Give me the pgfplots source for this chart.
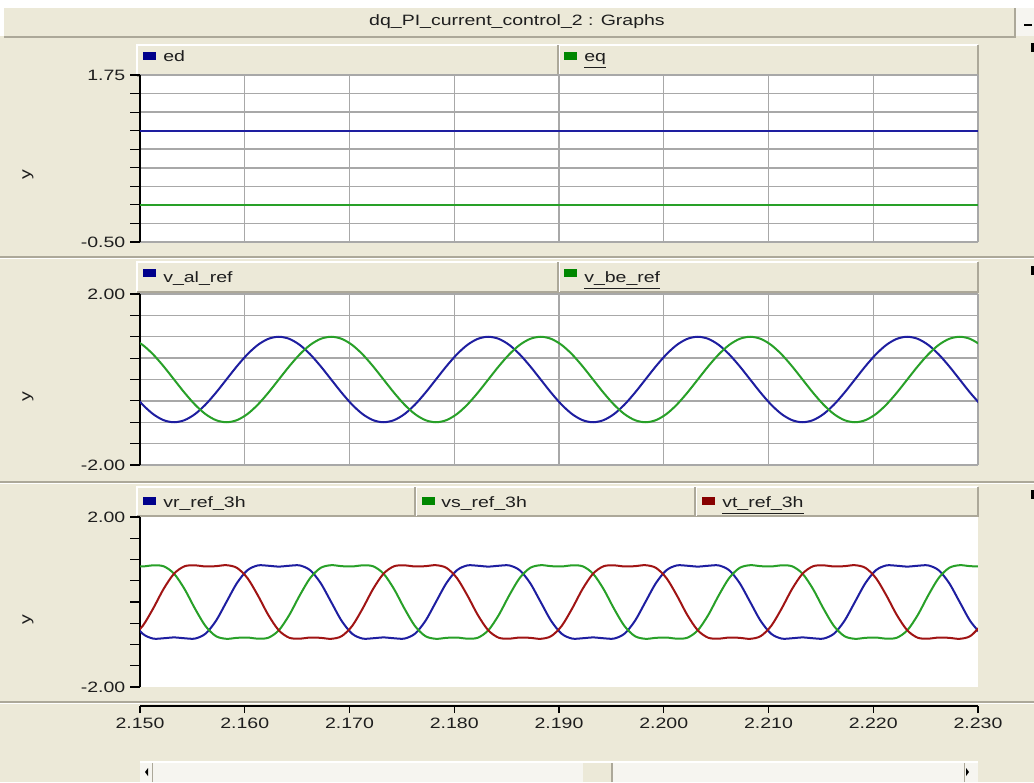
\documentclass[border=0pt]{standalone}
\usepackage{pgfplots}
\pgfplotsset{compat=1.18}
\usepackage{pgfplotstable}
\usepackage{fontspec}
\setmainfont{Liberation Sans}
\newfontfamily\uifont[FakeStretch=1.3]{Liberation Sans}
\newcommand\ui{\uifont\fontsize{11.25}{13}\selectfont}
\definecolor{bg}{RGB}{236,233,216}
\definecolor{edge}{RGB}{172,168,153}
\definecolor{gridc}{RGB}{168,168,168}
\definecolor{lblue}{RGB}{30,30,160}
\definecolor{lgreen}{RGB}{40,160,40}
\definecolor{lred}{RGB}{160,20,20}
\definecolor{sblue}{RGB}{0,0,140}
\definecolor{sgreen}{RGB}{0,135,0}
\definecolor{sred}{RGB}{135,0,0}
\definecolor{track}{RGB}{246,245,240}
\definecolor{txt}{RGB}{30,30,30}

% t, v_al_ref, v_be_ref, vr_ref_3h, vs_ref_3h, vt_ref_3h
\pgfplotstableread{
t al be r s v
2.14925 -0.3090 0.9511 -0.4438 0.8433 -0.8039
2.15025 -0.5878 0.8090 -0.7463 0.8360 -0.5652
2.15125 -0.8090 0.5878 -0.8605 0.8620 -0.1560
2.15225 -0.9511 0.3090 -0.8531 0.8411 0.3059
2.15325 -1 0 -0.8333 0.6667 0.6667
2.15425 -0.9511 -0.3090 -0.8531 0.3059 0.8411
2.15525 -0.8090 -0.5878 -0.8605 -0.1560 0.8620
2.15625 -0.5878 -0.8090 -0.7463 -0.5652 0.8360
2.15725 -0.3090 -0.9511 -0.4438 -0.8039 0.8433
2.15825 0 -1 0 -0.8660 0.8660
2.15925 0.3090 -0.9511 0.4438 -0.8433 0.8039
2.16025 0.5878 -0.8090 0.7463 -0.8360 0.5652
2.16125 0.8090 -0.5878 0.8605 -0.8620 0.1560
2.16225 0.9511 -0.3090 0.8531 -0.8411 -0.3059
2.16325 1 0 0.8333 -0.6667 -0.6667
2.16425 0.9511 0.3090 0.8531 -0.3059 -0.8411
2.16525 0.8090 0.5878 0.8605 0.1560 -0.8620
2.16625 0.5878 0.8090 0.7463 0.5652 -0.8360
2.16725 0.3090 0.9511 0.4438 0.8039 -0.8433
2.16825 0 1 0 0.8660 -0.8660
2.16925 -0.3090 0.9511 -0.4438 0.8433 -0.8039
2.17025 -0.5878 0.8090 -0.7463 0.8360 -0.5652
2.17125 -0.8090 0.5878 -0.8605 0.8620 -0.1560
2.17225 -0.9511 0.3090 -0.8531 0.8411 0.3059
2.17325 -1 0 -0.8333 0.6667 0.6667
2.17425 -0.9511 -0.3090 -0.8531 0.3059 0.8411
2.17525 -0.8090 -0.5878 -0.8605 -0.1560 0.8620
2.17625 -0.5878 -0.8090 -0.7463 -0.5652 0.8360
2.17725 -0.3090 -0.9511 -0.4438 -0.8039 0.8433
2.17825 0 -1 0 -0.8660 0.8660
2.17925 0.3090 -0.9511 0.4438 -0.8433 0.8039
2.18025 0.5878 -0.8090 0.7463 -0.8360 0.5652
2.18125 0.8090 -0.5878 0.8605 -0.8620 0.1560
2.18225 0.9511 -0.3090 0.8531 -0.8411 -0.3059
2.18325 1 0 0.8333 -0.6667 -0.6667
2.18425 0.9511 0.3090 0.8531 -0.3059 -0.8411
2.18525 0.8090 0.5878 0.8605 0.1560 -0.8620
2.18625 0.5878 0.8090 0.7463 0.5652 -0.8360
2.18725 0.3090 0.9511 0.4438 0.8039 -0.8433
2.18825 0 1 0 0.8660 -0.8660
2.18925 -0.3090 0.9511 -0.4438 0.8433 -0.8039
2.19025 -0.5878 0.8090 -0.7463 0.8360 -0.5652
2.19125 -0.8090 0.5878 -0.8605 0.8620 -0.1560
2.19225 -0.9511 0.3090 -0.8531 0.8411 0.3059
2.19325 -1 0 -0.8333 0.6667 0.6667
2.19425 -0.9511 -0.3090 -0.8531 0.3059 0.8411
2.19525 -0.8090 -0.5878 -0.8605 -0.1560 0.8620
2.19625 -0.5878 -0.8090 -0.7463 -0.5652 0.8360
2.19725 -0.3090 -0.9511 -0.4438 -0.8039 0.8433
2.19825 0 -1 0 -0.8660 0.8660
2.19925 0.3090 -0.9511 0.4438 -0.8433 0.8039
2.20025 0.5878 -0.8090 0.7463 -0.8360 0.5652
2.20125 0.8090 -0.5878 0.8605 -0.8620 0.1560
2.20225 0.9511 -0.3090 0.8531 -0.8411 -0.3059
2.20325 1 0 0.8333 -0.6667 -0.6667
2.20425 0.9511 0.3090 0.8531 -0.3059 -0.8411
2.20525 0.8090 0.5878 0.8605 0.1560 -0.8620
2.20625 0.5878 0.8090 0.7463 0.5652 -0.8360
2.20725 0.3090 0.9511 0.4438 0.8039 -0.8433
2.20825 0 1 0 0.8660 -0.8660
2.20925 -0.3090 0.9511 -0.4438 0.8433 -0.8039
2.21025 -0.5878 0.8090 -0.7463 0.8360 -0.5652
2.21125 -0.8090 0.5878 -0.8605 0.8620 -0.1560
2.21225 -0.9511 0.3090 -0.8531 0.8411 0.3059
2.21325 -1 0 -0.8333 0.6667 0.6667
2.21425 -0.9511 -0.3090 -0.8531 0.3059 0.8411
2.21525 -0.8090 -0.5878 -0.8605 -0.1560 0.8620
2.21625 -0.5878 -0.8090 -0.7463 -0.5652 0.8360
2.21725 -0.3090 -0.9511 -0.4438 -0.8039 0.8433
2.21825 0 -1 0 -0.8660 0.8660
2.21925 0.3090 -0.9511 0.4438 -0.8433 0.8039
2.22025 0.5878 -0.8090 0.7463 -0.8360 0.5652
2.22125 0.8090 -0.5878 0.8605 -0.8620 0.1560
2.22225 0.9511 -0.3090 0.8531 -0.8411 -0.3059
2.22325 1 0 0.8333 -0.6667 -0.6667
2.22425 0.9511 0.3090 0.8531 -0.3059 -0.8411
2.22525 0.8090 0.5878 0.8605 0.1560 -0.8620
2.22625 0.5878 0.8090 0.7463 0.5652 -0.8360
2.22725 0.3090 0.9511 0.4438 0.8039 -0.8433
2.22825 0 1 0 0.8660 -0.8660
2.22925 -0.3090 0.9511 -0.4438 0.8433 -0.8039
2.23025 -0.5878 0.8090 -0.7463 0.8360 -0.5652
}\wave

\pgfplotsset{
  panel/.style={
    scale only axis, width=628.5pt,
    xmin=2.15, xmax=2.23,
    xtick={2.15,2.16,2.17,2.18,2.19,2.20,2.21,2.22,2.23},
    xticklabels={},
    axis lines*=left,
    x axis line style={draw=none},
    y axis line style={black, line width=1.1pt},
    xtick style={draw=none},
    ytick style={black, line width=0.9pt},
    tick align=outside,
    major tick length=7.5pt,
    yticklabel style={font=\ui, text=txt},
    axis background/.style={fill=white},
  },
  gridded/.style={grid=major, major grid style={gridc, line width=1.1pt}},
  wave/.style={line width=1.5pt, smooth},
}

\newcommand\legsq[3]{\fill[#3] (#1,#2-3) rectangle (#1+9.75,#2+3);}

\begin{document}
\begin{tikzpicture}[x=1pt,y=1pt]
% window background
\path[use as bounding box, fill=bg] (0,0) rectangle (775.5,586.5);
\fill[white] (0,580.5) rectangle (775.5,586.5);
\fill[white] (0,559.5) rectangle (3,586.5);
\fill[track] (762,559.5) rectangle (775.5,580.5);
\draw[black, line width=1.5pt] (768,567.75) -- (774,567.75);
\draw[edge, line width=1.2pt] (3,558.8) -- (761.25,558.8) -- (761.25,580.5);
\node[font=\ui, text=txt] at (387.75,570) {dq\_PI\_current\_control\_2 : Graphs};

% separators
\foreach \yy in {393.75,225,60} {
  \draw[edge, line width=1.2pt] (0,\yy) -- (775.5,\yy);
  \draw[white, line width=0.8pt] (0,\yy-1.2) -- (775.5,\yy-1.2);
}
% right marks
\fill[black] (773.25,547.5) rectangle (775.5,554.25);
\fill[black] (773.25,380.25) rectangle (775.5,387);
\fill[black] (773.25,212.25) rectangle (775.5,219);

% legend bars
\foreach \top/\bot in {552.75/529.5, 390/367.5, 221.25/199.5} {
  \fill[bg] (102.75,\bot) rectangle (733.5,\top);
  \draw[white, line width=0.8pt] (102.75,\bot) -- (102.75,\top) -- (733.5,\top);
  \draw[edge, line width=1.1pt] (102.75,\bot) -- (733.5,\bot) -- (733.5,\top);
}
\foreach \xx/\top/\bot in {418.5/552.75/529.5, 418.5/390/367.5, 311.25/221.25/199.5, 521.25/221.25/199.5} {
  \draw[edge, line width=1.1pt] (\xx,\bot) -- (\xx,\top);
  \draw[white, line width=0.7pt] (\xx+1,\bot) -- (\xx+1,\top);
}
% legend entries
\legsq{107.25}{544.5}{sblue}
\node[font=\ui, text=txt, anchor=base west, inner sep=0pt] at (122.25,540) {ed};
\legsq{423}{544.5}{sgreen}
\node[font=\ui, text=txt, anchor=base west, inner sep=0pt] at (438,540) {\underline{eq}};
\legsq{107.25}{381.75}{sblue}
\node[font=\ui, text=txt, anchor=base west, inner sep=0pt] at (122.25,374.25) {v\_al\_ref};
\legsq{423}{381.75}{sgreen}
\node[font=\ui, text=txt, anchor=base west, inner sep=0pt] at (438,374.25) {\underline{v\_be\_ref}};
\legsq{107.25}{210.75}{sblue}
\node[font=\ui, text=txt, anchor=base west, inner sep=0pt] at (122.25,205.5) {vr\_ref\_3h};
\legsq{316.5}{210.75}{sgreen}
\node[font=\ui, text=txt, anchor=base west, inner sep=0pt] at (330.75,205.5) {vs\_ref\_3h};
\legsq{526.5}{210.75}{sred}
\node[font=\ui, text=txt, anchor=base west, inner sep=0pt] at (541.5,205.5) {\underline{vt\_ref\_3h}};

% y labels
\node[font=\ui, text=txt, rotate=90] at (21,455.25) {y};
\node[font=\ui, text=txt, rotate=90] at (21,288.75) {y};
\node[font=\ui, text=txt, rotate=90] at (21,121.5) {y};

% panel 1
\begin{axis}[panel, gridded, at={(105pt,405pt)}, anchor=south west, height=125.25pt,
  ymin=-0.5, ymax=1.75,
  ytick={-0.5,-0.25,0,0.25,0.5,0.75,1,1.25,1.5,1.75},
  yticklabels={-0.50,,,,,,,,,1.75}]
\addplot[lblue, line width=1.5pt] coordinates {(2.15,1) (2.23,1)};
\addplot[lgreen, line width=1.5pt] coordinates {(2.15,0) (2.23,0)};
\end{axis}

% panel 2
\begin{axis}[panel, gridded, at={(105pt,237.75pt)}, anchor=south west, height=128.25pt,
  ymin=-2, ymax=2,
  ytick={-2,-1.5,-1,-0.5,0,0.5,1,1.5,2},
  yticklabels={-2.00,,,,,,,,2.00}]
\addplot[lblue, wave] table[x=t, y=al] {\wave};
\addplot[lgreen, wave] table[x=t, y=be] {\wave};
\end{axis}

% panel 3
\begin{axis}[panel, at={(105pt,71.25pt)}, anchor=south west, height=127.5pt,
  ymin=-2, ymax=2,
  ytick={-2,-1.5,-1,-0.5,0,0.5,1,1.5,2},
  yticklabels={-2.00,,,,,,,,2.00}]
\addplot[lblue, wave] table[x=t, y=r] {\wave};
\addplot[lgreen, wave] table[x=t, y=s] {\wave};
\addplot[lred, wave] table[x=t, y=v] {\wave};
\end{axis}

% shared time axis
\begin{axis}[scale only axis, width=628.5pt, height=10pt, at={(105pt,57pt)}, anchor=south west,
  xmin=2.15, xmax=2.23, ymin=0, ymax=1,
  axis x line*=bottom, hide y axis,
  xtick={2.15,2.16,2.17,2.18,2.19,2.20,2.21,2.22,2.23},
  xticklabels={2.150,2.160,2.170,2.180,2.190,2.200,2.210,2.220,2.230},
  xtick align=outside, major tick length=5.25pt,
  x axis line style={black, line width=1.3pt},
  xtick style={black, line width=0.9pt},
  xticklabel style={font=\ui, text=txt}]
\addplot[draw=none] coordinates {(2.15,0.5) (2.23,0.5)};
\end{axis}

% scrollbar
\fill[track] (105,0) rectangle (733.5,15);
\draw[white, line width=0.8pt] (105,15) -- (733.5,15);
\fill[bg] (437.25,0) rectangle (459,14.5);
\draw[edge, line width=0.9pt] (459,0) -- (459,14.5);
\fill[black] (108.75,7.5) -- (111,10.5) -- (111,4.5) -- cycle;
\fill[black] (724.5,10.5) -- (724.5,4.5) -- (726.75,7.5) -- cycle;
\draw[edge, line width=0.6pt] (114.5,0) -- (114.5,14.5);
\draw[edge, line width=0.6pt] (723,0) -- (723,14.5);
\end{tikzpicture}
\end{document}
